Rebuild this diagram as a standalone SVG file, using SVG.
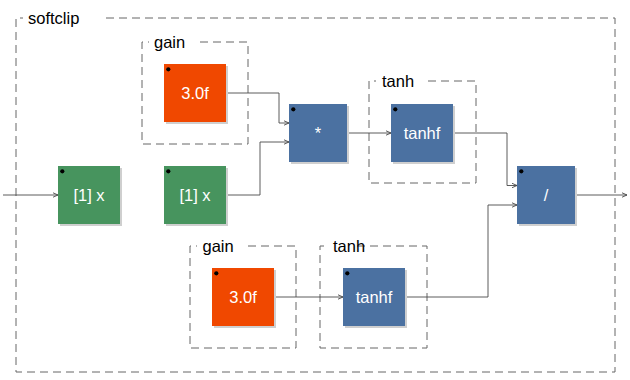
<svg xmlns="http://www.w3.org/2000/svg" width="630" height="380" viewBox="0 0 630 380">
  <style>
    .bg { fill: #ffffff; }
    .grp { fill: none; stroke: #666666; stroke-width: 1; stroke-dasharray: 8,5; }
    .lbl { font-family: "Liberation Sans", Arial, sans-serif; font-size: 16.5px; fill: #000000; }
    .txt { font-family: "Liberation Sans", Arial, sans-serif; font-size: 16.5px; fill: #ffffff; text-anchor: middle; }
    .shadow { fill: #cfcfcf; }
    .num { fill: #f04800; }
    .slot { fill: #47945e; }
    .prim { fill: #4b71a1; }
    .dot { fill: #000000; }
    .wire { fill: none; stroke: #4a4a4a; stroke-width: 0.9; }
  </style>
  <defs>
    <marker id="arrow" markerUnits="userSpaceOnUse" markerWidth="8" markerHeight="8" refX="5" refY="4" orient="auto" viewBox="0 0 8 8">
      <path d="M0,1.8 L5,4 L0,6.2" fill="none" stroke="#4a4a4a" stroke-width="0.9"/>
    </marker>
  </defs>

  <rect class="bg" x="0" y="0" width="630" height="380"/>

  <!-- group frames -->
  <g id="softclip">
    <path class="grp" d="M106,18 H615 V372 H16 V18 H23"/>
    <text class="lbl" x="28" y="23.5">softclip</text>
  </g>
  <g id="gain1">
    <path class="grp" d="M200,42 H248 V144 H142 V42 H149"/>
    <text class="lbl" x="154" y="48">gain</text>
  </g>
  <g id="tanh1">
    <path class="grp" d="M428,81 H476 V183 H369 V81 H376"/>
    <text class="lbl" x="382" y="87">tanh</text>
  </g>
  <g id="gain2">
    <path class="grp" d="M248,246 H296 V348 H190 V246 H197"/>
    <text class="lbl" x="202.5" y="252">gain</text>
  </g>
  <g id="tanh2">
    <path class="grp" d="M357,246 H427 V348 H320 V246 H327"/>
    <text class="lbl" x="333" y="252">tanh</text>
  </g>

  <!-- connectors -->
  <g id="wires">
    <path class="wire" d="M3,195 H58" marker-end="url(#arrow)"/>
    <path class="wire" d="M226,93 H279 V123 H289" marker-end="url(#arrow)"/>
    <path class="wire" d="M226,195 H260 V142 H289" marker-end="url(#arrow)"/>
    <path class="wire" d="M347,133 H391" marker-end="url(#arrow)"/>
    <path class="wire" d="M453,133 H507 V185.5 H517" marker-end="url(#arrow)"/>
    <path class="wire" d="M274,297 H343" marker-end="url(#arrow)"/>
    <path class="wire" d="M405,297 H488 V205 H517" marker-end="url(#arrow)"/>
    <path class="wire" d="M575,195 H627" marker-end="url(#arrow)"/>
  </g>

  <!-- blocks -->
  <g id="x1">
    <rect class="shadow" x="60" y="168" width="62" height="58"/>
    <rect class="slot" x="58" y="166" width="62" height="58"/>
    <circle class="dot" cx="62.3" cy="171.3" r="2.1"/>
    <text class="txt" x="89" y="201">[1] x</text>
  </g>
  <g id="x2">
    <rect class="shadow" x="166" y="168" width="62" height="58"/>
    <rect class="slot" x="164" y="166" width="62" height="58"/>
    <circle class="dot" cx="168.3" cy="171.3" r="2.1"/>
    <text class="txt" x="195" y="201">[1] x</text>
  </g>
  <g id="k1">
    <rect class="shadow" x="166" y="66" width="62" height="58"/>
    <rect class="num" x="164" y="64" width="62" height="58"/>
    <circle class="dot" cx="168.3" cy="69.3" r="2.1"/>
    <text class="txt" x="195" y="99">3.0f</text>
  </g>
  <g id="mul">
    <rect class="shadow" x="291" y="106" width="58" height="58"/>
    <rect class="prim" x="289" y="104" width="58" height="58"/>
    <circle class="dot" cx="293.3" cy="109.3" r="2.1"/>
    <text class="txt" x="318" y="139">*</text>
  </g>
  <g id="tanhf1">
    <rect class="shadow" x="393" y="106" width="62" height="58"/>
    <rect class="prim" x="391" y="104" width="62" height="58"/>
    <circle class="dot" cx="395.3" cy="109.3" r="2.1"/>
    <text class="txt" x="422" y="139">tanhf</text>
  </g>
  <g id="div">
    <rect class="shadow" x="519" y="168" width="58" height="58"/>
    <rect class="prim" x="517" y="166" width="58" height="58"/>
    <circle class="dot" cx="521.3" cy="171.3" r="2.1"/>
    <text class="txt" x="546" y="201">/</text>
  </g>
  <g id="k2">
    <rect class="shadow" x="214" y="270" width="62" height="58"/>
    <rect class="num" x="212" y="268" width="62" height="58"/>
    <circle class="dot" cx="216.3" cy="273.3" r="2.1"/>
    <text class="txt" x="243" y="303">3.0f</text>
  </g>
  <g id="tanhf2">
    <rect class="shadow" x="345" y="270" width="62" height="58"/>
    <rect class="prim" x="343" y="268" width="62" height="58"/>
    <circle class="dot" cx="347.3" cy="273.3" r="2.1"/>
    <text class="txt" x="374" y="303">tanhf</text>
  </g>
</svg>
